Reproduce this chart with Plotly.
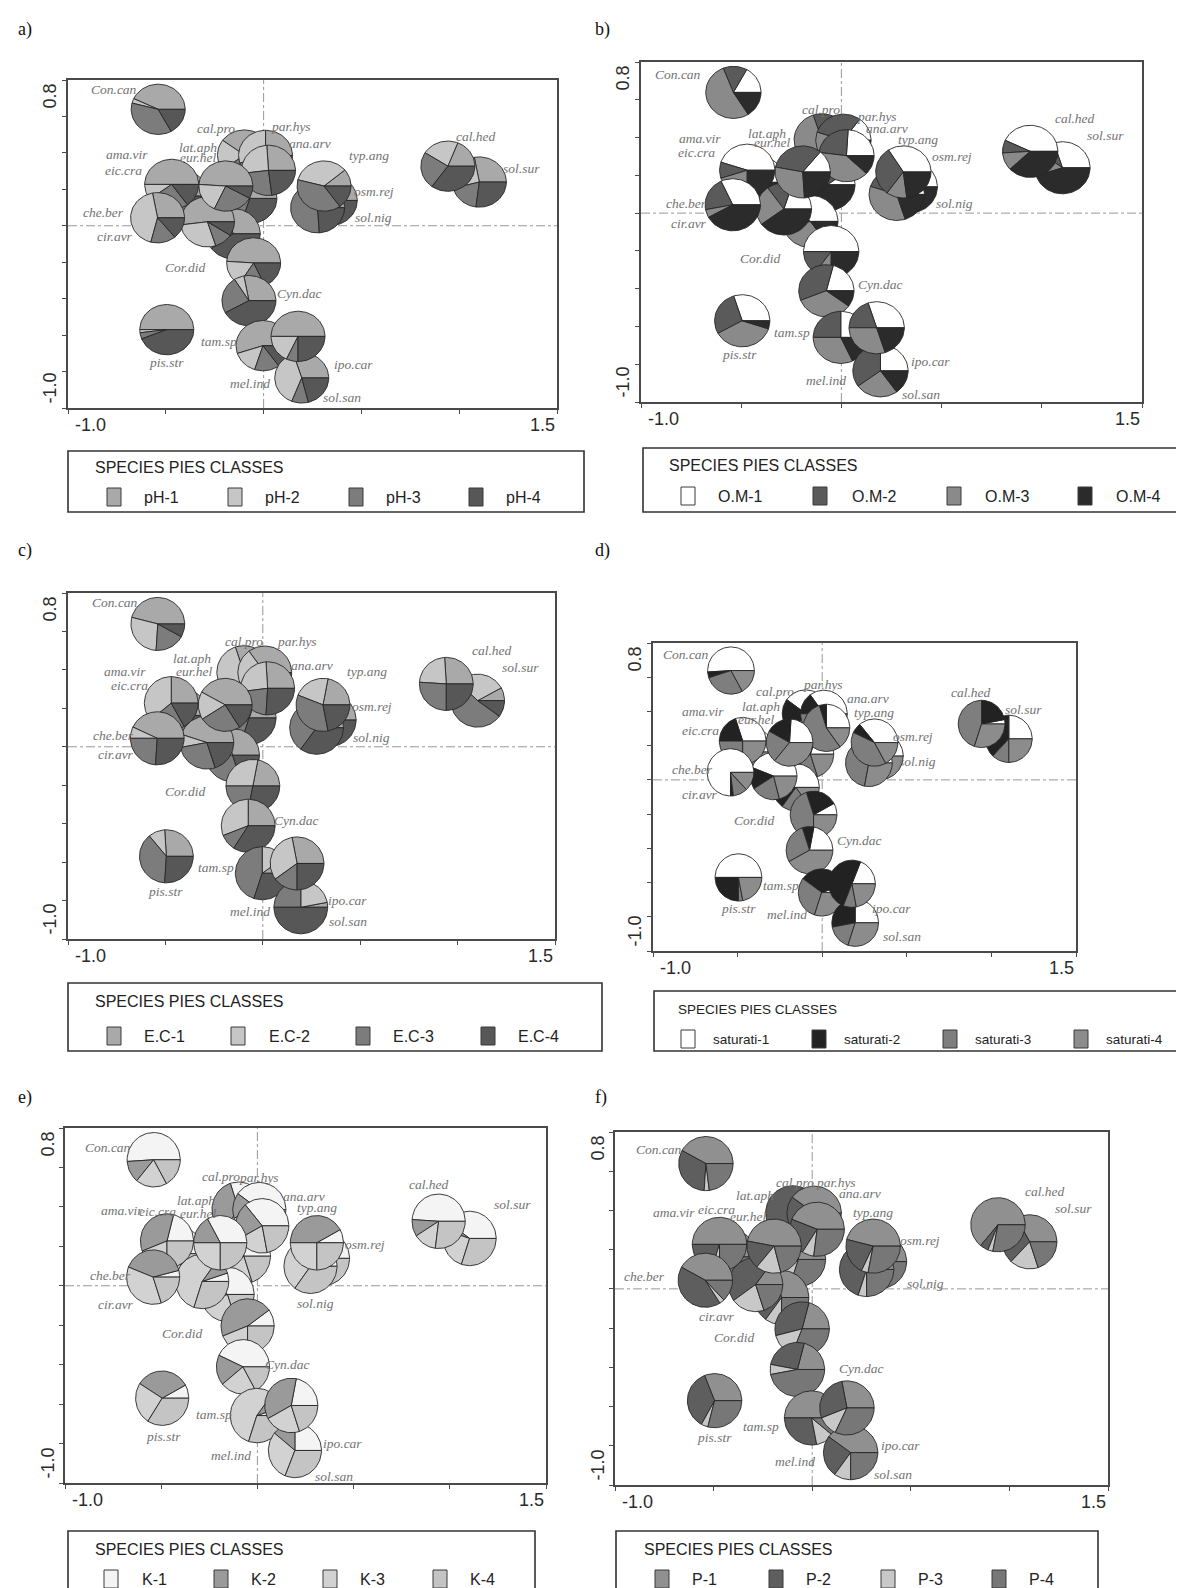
import numpy as np
import plotly.graph_objects as go

W, H = 1184, 1588

# ---------------- data ----------------
species = ["Con.can", "cal.pro", "par.hys", "ana.arv", "lat.aph", "eur.hel", "ama.vir", "eic.cra",
           "typ.ang", "osm.rej", "sol.nig", "cal.hed", "sol.sur", "che.ber", "cir.avr", "mel.ind",
           "Cor.did", "Cyn.dac", "pis.str", "tam.sp", "ipo.car", "sol.san"]
axis1 = [-0.539, -0.098, 0.010, 0.025, -0.070, -0.193, -0.470, -0.416, 0.309, 0.341, 0.276, 0.942,
         1.103, -0.542, -0.287, -0.155, -0.051, -0.075, -0.495, -0.003, 0.176, 0.195]
axis2 = [0.639, 0.388, 0.386, 0.304, 0.150, 0.218, 0.227, 0.163, 0.218, 0.139, 0.099, 0.327,
         0.240, 0.044, 0.022, -0.044, -0.204, -0.411, -0.570, -0.658, -0.607, -0.835]
draw_order = ["Con.can", "lat.aph", "cal.pro", "par.hys", "ana.arv", "eic.cra", "ama.vir", "mel.ind",
              "cir.avr", "eur.hel", "che.ber", "Cor.did", "Cyn.dac", "pis.str", "tam.sp", "sol.san",
              "ipo.car", "osm.rej", "sol.nig", "typ.ang", "sol.sur", "cal.hed"]

# species label positions (data units) in each panel
lab_x_a = [-0.766, -0.245, 0.142, 0.239, -0.334, -0.334, -0.699, -0.716, 0.541, 0.564, 0.564, 1.084,
           1.320, -0.820, -0.760, -0.070, -0.401, 0.186, -0.495, -0.230, 0.460, 0.403]
lab_y_a = [0.749, 0.533, 0.544, 0.452, 0.428, 0.373, 0.392, 0.305, 0.388, 0.186, 0.047, 0.492,
           0.315, 0.075, -0.057, -0.863, -0.231, -0.372, -0.748, -0.634, -0.762, -0.945]
lab_x_b = [-0.816, -0.104, 0.180, 0.228, -0.370, -0.342, -0.708, -0.721, 0.380, 0.550, 0.564, 1.167,
           1.319, -0.772, -0.759, -0.076, -0.404, 0.195, -0.507, -0.247, 0.446, 0.398]
lab_y_b = [0.732, 0.549, 0.513, 0.446, 0.420, 0.372, 0.393, 0.319, 0.388, 0.302, 0.049, 0.499,
           0.411, 0.053, -0.056, -0.885, -0.238, -0.377, -0.750, -0.630, -0.788, -0.961]
lab_x_c = [-0.759, -0.099, 0.177, 0.253, -0.365, -0.350, -0.705, -0.686, 0.534, 0.559, 0.557, 1.175,
           1.323, -0.768, -0.755, -0.065, -0.401, 0.173, -0.498, -0.241, 0.435, 0.435]
lab_y_c = [0.750, 0.547, 0.547, 0.424, 0.458, 0.389, 0.391, 0.321, 0.389, 0.207, 0.047, 0.502,
           0.411, 0.059, -0.040, -0.856, -0.234, -0.384, -0.752, -0.627, -0.799, -0.911]
lab_x_d = [-0.803, -0.277, 0.002, 0.268, -0.362, -0.389, -0.702, -0.720, 0.304, 0.539, 0.562, 0.879,
           1.192, -0.765, -0.725, -0.206, -0.403, 0.219, -0.497, -0.246, 0.409, 0.472]
lab_y_d = [0.730, 0.518, 0.555, 0.477, 0.428, 0.350, 0.398, 0.287, 0.395, 0.254, 0.107, 0.512,
           0.410, 0.059, -0.088, -0.787, -0.236, -0.357, -0.752, -0.617, -0.752, -0.914]
lab_x_e = [-0.779, -0.187, 0.010, 0.240, -0.317, -0.308, -0.702, -0.519, 0.308, 0.558, 0.302, 0.894,
           1.327, -0.763, -0.737, -0.135, -0.394, 0.154, -0.490, -0.227, 0.442, 0.400]
lab_y_e = [0.699, 0.552, 0.547, 0.454, 0.432, 0.365, 0.383, 0.378, 0.399, 0.209, -0.091, 0.514,
           0.412, 0.052, -0.095, -0.863, -0.242, -0.399, -0.762, -0.655, -0.799, -0.965]
lab_x_f = [-0.779, -0.087, 0.121, 0.240, -0.288, -0.321, -0.702, -0.487, 0.308, 0.548, 0.577, 1.179,
           1.327, -0.852, -0.481, -0.087, -0.398, 0.250, -0.494, -0.260, 0.448, 0.410]
lab_y_f = [0.713, 0.545, 0.545, 0.484, 0.477, 0.370, 0.390, 0.404, 0.390, 0.248, 0.025, 0.497,
           0.409, 0.065, -0.139, -0.878, -0.246, -0.406, -0.759, -0.700, -0.801, -0.945]

ph_values = [[43, 3, 37, 17], [40, 20, 25, 15], [25, 30, 25, 20], [26, 26, 25, 23], [30, 15, 25, 30],
             [49, 19, 24, 8], [50, 10, 25, 15], [35, 20, 25, 20], [11, 35, 39, 15], [20, 15, 30, 35],
             [8, 4, 64, 24], [19, 22, 24, 35], [28, 26, 19, 27], [28, 43, 15, 14], [52, 28, 11, 9],
             [30, 10, 20, 40], [49, 17, 16, 18], [28, 6, 24, 42], [50, 2, 4, 44], [55, 15, 15, 15],
             [50, 18, 7, 25], [30, 39, 10, 21]]
om_values = [[17, 14, 53, 16], [10, 20, 55, 15], [15, 30, 40, 15], [24, 24, 40, 12], [10, 20, 30, 40],
             [14, 33, 29, 24], [45, 10, 20, 25], [30, 20, 25, 25], [34, 31, 12, 23], [25, 15, 30, 30],
             [15, 30, 35, 20], [43, 8, 11, 38], [30, 10, 15, 45], [32, 21, 5, 42], [20, 15, 25, 40],
             [40, 15, 30, 15], [50, 15, 10, 25], [21, 35, 34, 10], [30, 28, 37, 5], [25, 25, 32, 18],
             [30, 20, 30, 20], [25, 35, 25, 15]]
ec_values = [[46, 28, 18, 8], [30, 40, 15, 15], [35, 25, 25, 15], [26, 26, 22, 26], [20, 20, 30, 30],
             [42, 17, 25, 16], [25, 36, 22, 17], [25, 30, 25, 20], [22, 22, 34, 22], [25, 25, 25, 25],
             [5, 5, 55, 35], [26, 23, 26, 25], [8, 30, 52, 10], [43, 7, 24, 26], [45, 8, 27, 20],
             [30, 20, 30, 20], [22, 28, 22, 28], [25, 31, 10, 34], [26, 10, 38, 26], [10, 15, 45, 30],
             [28, 32, 15, 25], [3, 22, 25, 50]]
sat_values = [[51, 4, 28, 17], [40, 25, 20, 15], [35, 15, 30, 20], [25, 5, 55, 15], [20, 20, 40, 20],
              [24, 18, 22, 36], [30, 20, 25, 25], [20, 20, 30, 30], [36, 7, 40, 17], [10, 5, 45, 40],
              [5, 2, 65, 28], [3, 22, 45, 30], [25, 38, 12, 25], [75, 2, 10, 13], [44, 15, 20, 21],
              [50, 15, 20, 15], [8, 22, 45, 25], [22, 8, 28, 42], [50, 25, 3, 22], [5, 35, 30, 30],
              [19, 50, 9, 22], [25, 28, 17, 30]]
k_values = [[51, 13, 19, 17], [30, 35, 20, 15], [40, 15, 25, 20], [36, 22, 20, 22], [30, 20, 30, 20],
            [33, 17, 25, 25], [21, 35, 19, 25], [25, 30, 25, 20], [8, 42, 25, 25], [15, 20, 35, 30],
            [5, 15, 45, 35], [49, 10, 14, 27], [40, 5, 25, 30], [4, 40, 36, 20], [5, 10, 55, 30],
            [40, 15, 25, 20], [10, 46, 19, 25], [43, 18, 22, 17], [8, 33, 25, 34], [5, 10, 55, 30],
            [22, 36, 22, 20], [25, 14, 30, 31]]
p_values = [[42, 32, 3, 23], [15, 55, 10, 20], [40, 20, 10, 30], [44, 22, 7, 27], [30, 30, 10, 30],
            [47, 17, 15, 21], [50, 20, 5, 25], [35, 30, 5, 30], [46, 22, 4, 28], [30, 30, 5, 35],
            [20, 50, 5, 25], [64, 5, 3, 28], [33, 30, 17, 20], [42, 42, 3, 13], [15, 45, 20, 20],
            [30, 35, 10, 25], [21, 33, 15, 31], [21, 26, 6, 47], [31, 36, 4, 29], [50, 28, 11, 11],
            [28, 28, 12, 32], [40, 25, 10, 25]]

ph_classes = ["pH-1", "pH-2", "pH-3", "pH-4"]
om_classes = ["O.M-1", "O.M-2", "O.M-3", "O.M-4"]
ec_classes = ["E.C-1", "E.C-2", "E.C-3", "E.C-4"]
sat_classes = ["saturati-1", "saturati-2", "saturati-3", "saturati-4"]
k_classes = ["K-1", "K-2", "K-3", "K-4"]
p_classes = ["P-1", "P-2", "P-3", "P-4"]
x_ticks = [-1.0, -0.5, 0.0, 0.5, 1.0, 1.5]
y_ticks = [-1.0, -0.8, -0.6, -0.4, -0.2, 0.0, 0.2, 0.4, 0.6, 0.8]
legend_title = "SPECIES PIES CLASSES"

# ---------------- style / layout ----------------
PIE_R = 0.138
panels = [
    dict(letter="a)", lpos=(8, 22), box=(60, 549, 72, 400), vals=ph_values, names=ph_classes,
         labx=lab_x_a, laby=lab_y_a,
         colors=["#a9a9a9", "#c6c6c6", "#7c7c7c", "#575757"],
         lbox=(60, 576, 443, 504), tpos=(85, 459), iy=489,
         sw=[106, 227, 348, 468], lx=[134, 255, 376, 496], fs=16),
    dict(letter="b)", lpos=(585, 22), box=(633, 1134, 54, 394), vals=om_values, names=om_classes,
         labx=lab_x_b, laby=lab_y_b,
         colors=["#ffffff", "#5a5a5a", "#8a8a8a", "#2b2b2b"],
         lbox=(635, 1195, 440, 504), tpos=(659, 457), iy=488,
         sw=[680, 812, 946, 1077], lx=[708, 842, 975, 1106], fs=16),
    dict(letter="c)", lpos=(8, 542), box=(60, 547, 585, 931), vals=ec_values, names=ec_classes,
         labx=lab_x_c, laby=lab_y_c,
         colors=["#a9a9a9", "#c6c6c6", "#7c7c7c", "#575757"],
         lbox=(60, 594, 975, 1043), tpos=(85, 993), iy=1028,
         sw=[106, 230, 355, 480], lx=[134, 259, 383, 508], fs=16),
    dict(letter="d)", lpos=(585, 542), box=(645, 1068, 635, 943), vals=sat_values, names=sat_classes,
         labx=lab_x_d, laby=lab_y_d,
         colors=["#ffffff", "#222222", "#7e7e7e", "#8c8c8c"],
         lbox=(646, 1195, 983, 1043), tpos=(668, 1001), iy=1031,
         sw=[680, 811, 942, 1073], lx=[703, 834, 965, 1096], fs=13.5),
    dict(letter="e)", lpos=(8, 1089), box=(57, 538, 1120, 1475), vals=k_values, names=k_classes,
         labx=lab_x_e, laby=lab_y_e,
         colors=["#f4f4f4", "#9a9a9a", "#d2d2d2", "#c4c4c4"],
         lbox=(60, 527, 1523, 1600), tpos=(85, 1541), iy=1571,
         sw=[103, 213, 322, 432], lx=[132, 241, 350, 460], fs=16),
    dict(letter="f)", lpos=(585, 1089), box=(607, 1100, 1124, 1477), vals=p_values, names=p_classes,
         labx=lab_x_f, laby=lab_y_f,
         colors=["#909090", "#5e5e5e", "#c8c8c8", "#777777"],
         lbox=(608, 1090, 1523, 1600), tpos=(634, 1541), iy=1571,
         sw=[654, 768, 880, 991], lx=[682, 796, 908, 1019], fs=16),
]


def fx(px):
    return px / W


def fy(py):
    return 1 - py / H


def wedge(cx, cy, r, a0, a1):
    n = max(4, int(abs(a1 - a0) / 3) + 2)
    th = np.radians(np.linspace(a0, a1, n))
    xs = np.concatenate([[cx], cx + r * np.cos(th), [cx]])
    ys = np.concatenate([[cy], cy + r * np.sin(th), [cy]])
    return xs, ys


fig = go.Figure()
shapes = []
annotations = []
layout_axes = {}

for i, pnl in enumerate(panels, start=1):
    xa = "x" if i == 1 else f"x{i}"
    ya = "y" if i == 1 else f"y{i}"
    xkey = "xaxis" if i == 1 else f"xaxis{i}"
    ykey = "yaxis" if i == 1 else f"yaxis{i}"
    L, R, T, B = pnl["box"]
    layout_axes[xkey] = dict(domain=[fx(L), fx(R)], range=[-1.0, 1.5], anchor=ya,
                             showgrid=False, zeroline=False, showline=True, mirror=True,
                             linecolor="#4a4a4a", linewidth=1.5, ticks="outside", ticklen=4,
                             tickcolor="#4a4a4a", tickvals=x_ticks, showticklabels=False, fixedrange=True)
    layout_axes[ykey] = dict(domain=[fy(B), fy(T)], range=[-1.0, 0.8], anchor=xa,
                             showgrid=False, zeroline=False, showline=True, mirror=True,
                             linecolor="#4a4a4a", linewidth=1.5, ticks="outside", ticklen=4,
                             tickcolor="#4a4a4a", tickvals=y_ticks, showticklabels=False, fixedrange=True)

    # dashed zero lines
    shapes.append(dict(type="line", xref=xa, yref=ya, x0=-1.0, x1=1.5, y0=0, y1=0, layer="below",
                       line=dict(color="#8c8c8c", width=0.9, dash="dashdot")))
    shapes.append(dict(type="line", xref=xa, yref=ya, x0=0, x1=0, y0=-1.0, y1=0.8, layer="below",
                       line=dict(color="#8c8c8c", width=0.9, dash="dashdot")))

    # pies
    for name in draw_order:
        j = species.index(name)
        vals = np.array(pnl["vals"][j], dtype=float)
        fr = vals / vals.sum()
        ang = np.concatenate([[0.0], np.cumsum(fr) * 360.0])
        for c in range(4):
            if fr[c] <= 0:
                continue
            xs, ys = wedge(axis1[j], axis2[j], PIE_R, ang[c], ang[c + 1])
            fig.add_trace(go.Scatter(x=xs, y=ys, mode="lines", fill="toself",
                                     fillcolor=pnl["colors"][c],
                                     line=dict(color="#262626", width=0.9),
                                     xaxis=xa, yaxis=ya, hoverinfo="skip", showlegend=False))

    # species labels
    for j, name in enumerate(species):
        annotations.append(dict(x=pnl["labx"][j], y=pnl["laby"][j], xref=xa, yref=ya,
                                text=f"<i>{name}</i>", showarrow=False, xanchor="center",
                                yanchor="middle",
                                font=dict(family="Liberation Serif", size=13.5, color="#727272")))

    # axis end labels
    tick_font = dict(family="Liberation Sans", size=18, color="#2a2a2a")
    annotations.append(dict(x=0, xref=f"{xa} domain", y=0.8, yref=ya, text="0.8", textangle=-90,
                            showarrow=False, xanchor="center", yanchor="top", xshift=-18, yshift=-2,
                            font=tick_font))
    annotations.append(dict(x=0, xref=f"{xa} domain", y=-1.0, yref=ya, text="-1.0", textangle=-90,
                            showarrow=False, xanchor="center", yanchor="bottom", xshift=-18, yshift=2,
                            font=tick_font))
    annotations.append(dict(x=-1.0, xref=xa, y=0, yref=f"{ya} domain", text="-1.0",
                            showarrow=False, xanchor="left", yanchor="top", xshift=5, yshift=-5,
                            font=tick_font))
    annotations.append(dict(x=1.5, xref=xa, y=0, yref=f"{ya} domain", text="1.5",
                            showarrow=False, xanchor="right", yanchor="top", xshift=0, yshift=-5,
                            font=tick_font))

    # panel letter
    lx0, ly0 = pnl["lpos"]
    annotations.append(dict(x=fx(lx0), y=fy(ly0), xref="paper", yref="paper", text=pnl["letter"],
                            showarrow=False, xanchor="left", yanchor="middle",
                            font=dict(family="Liberation Serif", size=18, color="#111111")))

    # legend box
    bl, br, bt, bb = pnl["lbox"]
    shapes.append(dict(type="rect", xref="paper", yref="paper", x0=fx(bl), x1=fx(br),
                       y0=fy(bb), y1=fy(bt), line=dict(color="#333333", width=1.6),
                       fillcolor="rgba(0,0,0,0)"))
    tx, ty = pnl["tpos"]
    annotations.append(dict(x=fx(tx), y=fy(ty), xref="paper", yref="paper", text=legend_title,
                            showarrow=False, xanchor="left", yanchor="middle",
                            font=dict(family="Liberation Sans", size=pnl["fs"], color="#222222")))
    for c in range(4):
        sx = pnl["sw"][c]
        iy = pnl["iy"]
        shapes.append(dict(type="rect", xref="paper", yref="paper",
                           x0=fx(sx - 7), x1=fx(sx + 7), y0=fy(iy + 9), y1=fy(iy - 9),
                           fillcolor=pnl["colors"][c], line=dict(color="#3a3a3a", width=1)))
        annotations.append(dict(x=fx(pnl["lx"][c]), y=fy(iy), xref="paper", yref="paper",
                                text=pnl["names"][c], showarrow=False, xanchor="left", yanchor="middle",
                                font=dict(family="Liberation Sans", size=pnl["fs"], color="#222222")))

fig.update_layout(width=W, height=H, margin=dict(l=0, r=0, t=0, b=0),
                  paper_bgcolor="white", plot_bgcolor="white", showlegend=False,
                  shapes=shapes, annotations=annotations, **layout_axes)

fig.write_html("out.html")
